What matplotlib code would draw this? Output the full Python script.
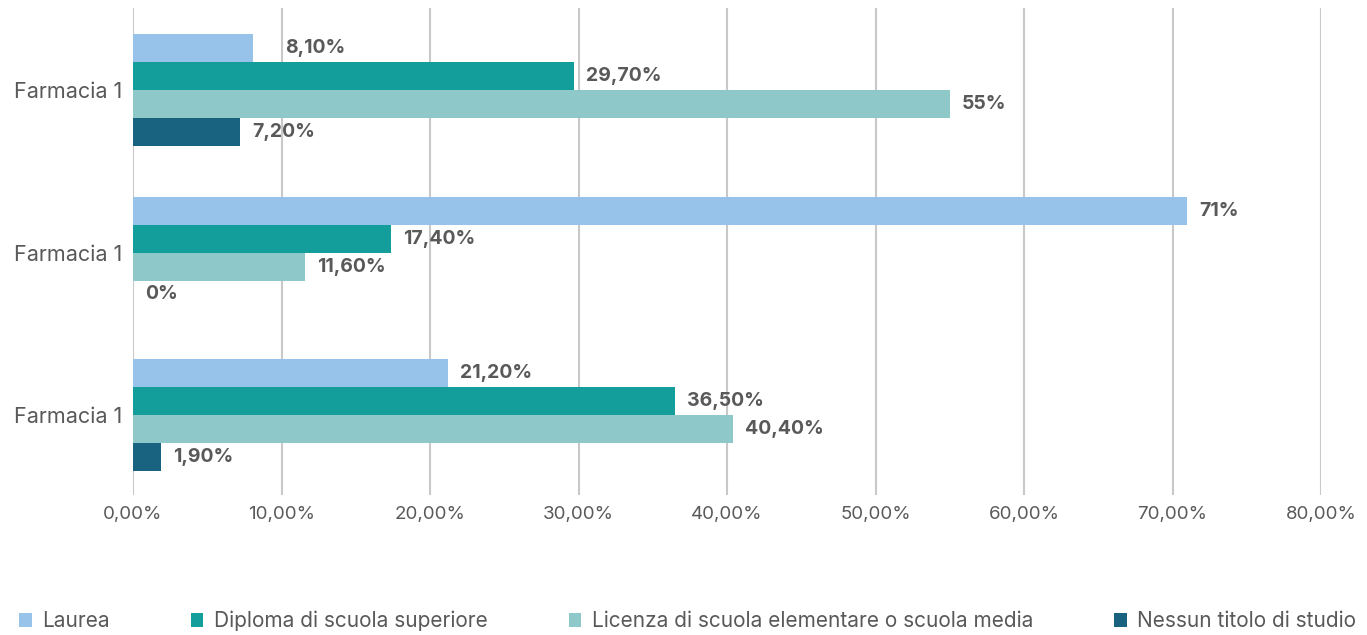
import matplotlib.pyplot as plt
import numpy as np

categories = ["Farmacia 1", "Farmacia 1", "Farmacia 1"]
series = ["Laurea", "Diploma di scuola superiore",
          "Licenza di scuola elementare o scuola media", "Nessun titolo di studio"]
# values per series, one entry per group (top to bottom)
laurea = [8.1, 71.0, 21.2]
diploma = [29.7, 17.4, 36.5]
licenza = [55.0, 11.6, 40.4]
nessuno = [7.2, 0.0, 1.9]
labels = [["8,10%", "71%", "21,20%"],
          ["29,70%", "17,40%", "36,50%"],
          ["55%", "11,60%", "40,40%"],
          ["7,20%", "0%", "1,90%"]]
colors = ["#97c3eb", "#139e9c", "#8ec8c8", "#1a6380"]
ticks = [0, 10, 20, 30, 40, 50, 60, 70, 80]

plt.rcParams["font.family"] = ["Inter", "DejaVu Sans"]
grey = "#595959"

fig = plt.figure(figsize=(13.67, 6.35), dpi=100)
ax = fig.add_axes([133 / 1367, 1 - 495 / 635, 1188 / 1367, 487 / 635])

centers = np.array([2, 1, 0])
h = 0.172
data = [laurea, diploma, licenza, nessuno]
for i, vals in enumerate(data):
    y = centers + (1.5 - i) * h
    ax.barh(y, vals, height=h, color=colors[i], label=series[i], zorder=3)
    for j, v in enumerate(vals):
        dx = 32 if (i == 0 and j == 0) else 12
        ax.annotate(labels[i][j], (v, y[j]), xytext=(dx * 0.72, 0),
                    textcoords="offset points", va="center", ha="left",
                    fontsize=14, fontweight="bold", color=grey, zorder=4)

ax.set_xlim(0, 80)
ax.set_ylim(-0.492, 2.505)
ax.set_xticks(ticks)
ax.set_xticklabels([f"{t},00%" for t in ticks])
ax.set_yticks(centers)
ax.set_yticklabels(categories)
ax.tick_params(axis="x", length=0, labelsize=13.5, labelcolor=grey, pad=8)
ax.tick_params(axis="y", length=0, labelsize=15.5, labelcolor=grey, pad=8)
ax.grid(axis="x", color="#c8c8c8", linewidth=1.5, zorder=0)
for s in ax.spines.values():
    s.set_visible(False)

fig.legend(loc="center", bbox_to_anchor=(0.503, 0.022),
           ncol=4, frameon=False, fontsize=15, labelcolor=grey, columnspacing=3.9,
           handlelength=0.6, handleheight=0.6, handletextpad=0.5, borderaxespad=0)

fig.savefig("out.png")
